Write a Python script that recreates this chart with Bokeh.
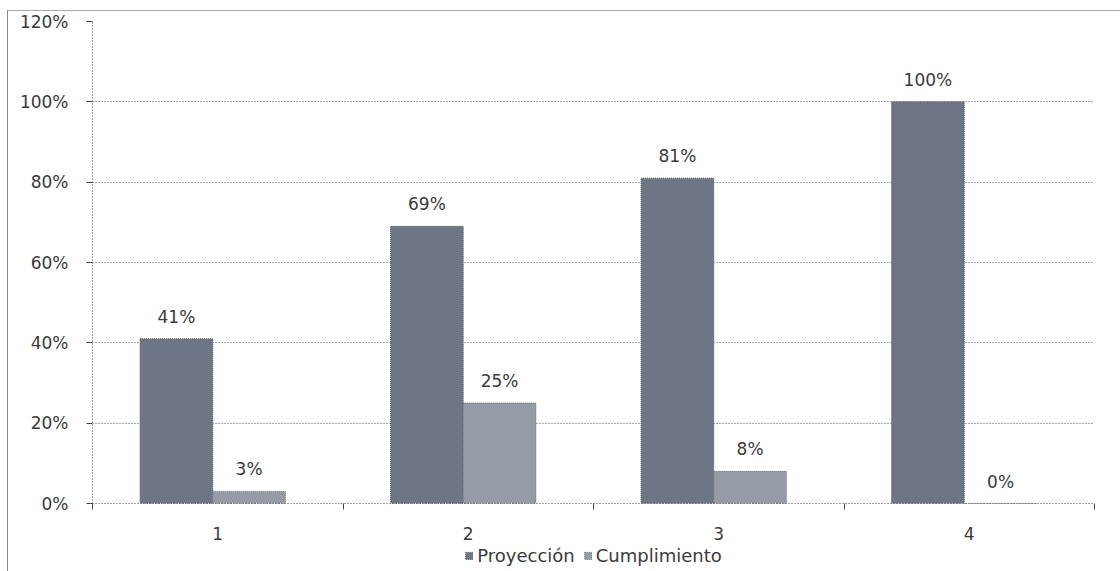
from bokeh.plotting import figure
from bokeh.layouts import column
from bokeh.models import ColumnDataSource, FixedTicker, NumeralTickFormatter, LabelSet, Legend, LegendItem
from bokeh.core.properties import value
from bokeh.transform import dodge
from bokeh.embed import file_html
from bokeh.resources import INLINE

categories = [1, 2, 3, 4]
category_labels = ["1", "2", "3", "4"]
proyeccion = [0.41, 0.69, 0.81, 1.00]
cumplimiento = [0.03, 0.25, 0.08, 0.00]
proyeccion_labels = ["41%", "69%", "81%", "100%"]
cumplimiento_labels = ["3%", "25%", "8%", "0%"]
y_ticks = [0, 0.2, 0.4, 0.6, 0.8, 1.0, 1.2]

src = ColumnDataSource(dict(x=categories, p=proyeccion, c=cumplimiento,
                            pl=proyeccion_labels, cl=cumplimiento_labels))

FONT = "DejaVu Sans"
TXT = "#3a3a3a"
C1, E1 = "#6d7684", "#4c525a"
C2, E2 = "#959ca6", "#666c75"

p = figure(width=1113, height=534, output_backend="svg", toolbar_location=None,
           x_range=(0.5, 4.5), y_range=(0, 1.2),
           min_border_left=84, min_border_right=27, min_border_top=10, min_border_bottom=42)
p.border_fill_color = "white"
p.outline_line_color = None

bw = 0.29
p.vbar(x=dodge("x", -bw / 2 - 0.02), top="p", width=bw, source=src,
       fill_color=C1, line_color=E1, line_dash="1 1", line_width=1)
p.vbar(x=dodge("x", bw / 2 - 0.02), top="c", width=bw, source=src,
       fill_color=C2, line_color=E2, line_dash="1 1", line_width=1)

for col, lab, off in (("p", "pl", -bw / 2 - 0.02), ("c", "cl", bw / 2 - 0.02)):
    ls = LabelSet(x=dodge("x", off), y=col, text=lab, source=src,
                  text_align="center", text_baseline="alphabetic", y_offset=16,
                  text_font=value(FONT), text_font_size=value("17px"), text_color=TXT)
    p.add_layout(ls)

p.xgrid.visible = False
p.ygrid.ticker = FixedTicker(ticks=y_ticks)
p.ygrid.grid_line_color = "#555555"
p.ygrid.grid_line_dash = "1 2"
p.ygrid.grid_line_alpha = 1.0

p.yaxis.ticker = FixedTicker(ticks=y_ticks)
p.yaxis.formatter = NumeralTickFormatter(format="0%")
p.yaxis.axis_line_color = "#444444"
p.yaxis.axis_line_dash = "1 2"
p.yaxis.major_tick_line_color = "#444444"
p.yaxis.major_tick_out = 6
p.yaxis.major_tick_in = 0
p.yaxis.minor_tick_line_color = None
p.yaxis.major_label_text_font = FONT
p.yaxis.major_label_text_font_size = "17px"
p.yaxis.major_label_text_color = TXT
p.yaxis.major_label_standoff = 18

p.xaxis.ticker = FixedTicker(ticks=categories, minor_ticks=[0.5, 1.5, 2.5, 3.5, 4.5])
p.xaxis.major_label_overrides = {c: l for c, l in zip(categories, category_labels)}
p.xaxis.major_tick_line_color = None
p.xaxis.minor_tick_line_color = "#444444"
p.xaxis.minor_tick_out = 6
p.xaxis.minor_tick_in = 0
p.xaxis.axis_line_color = "#444444"
p.xaxis.axis_line_dash = "1 2"
p.xaxis.major_label_text_font = FONT
p.xaxis.major_label_text_font_size = "17px"
p.xaxis.major_label_text_color = TXT
p.xaxis.major_label_standoff = 17

# legend strip below the chart
lg = figure(width=1113, height=27, output_backend="svg", toolbar_location=None,
            x_range=(100, 101), y_range=(100, 101), x_axis_type=None, y_axis_type=None,
            min_border=0)
lg.outline_line_color = None
lg.grid.visible = False
r1 = lg.vbar(x=categories, top=proyeccion, width=bw, fill_color=C1, line_color=E1, line_dash="1 1")
r2 = lg.vbar(x=categories, top=cumplimiento, width=bw, fill_color=C2, line_color=E2, line_dash="1 1")
legend = Legend(items=[LegendItem(label="Proyección", renderers=[r1]),
                       LegendItem(label="Cumplimiento", renderers=[r2])],
                orientation="horizontal", location="top_center",
                label_text_font=FONT, label_text_font_size="18px", label_text_color=TXT,
                glyph_width=9, glyph_height=9, spacing=8, label_standoff=4,
                label_height=18, padding=0, margin=0,
                border_line_color=None, background_fill_alpha=0)
lg.add_layout(legend)

layout = column(p, lg, spacing=0)
layout.styles = {"margin-left": "7px", "margin-top": "10px",
                 "border-left": "1px solid #888888", "border-top": "1px solid #aaaaaa"}

open("out.html", "w").write(file_html(layout, INLINE))
